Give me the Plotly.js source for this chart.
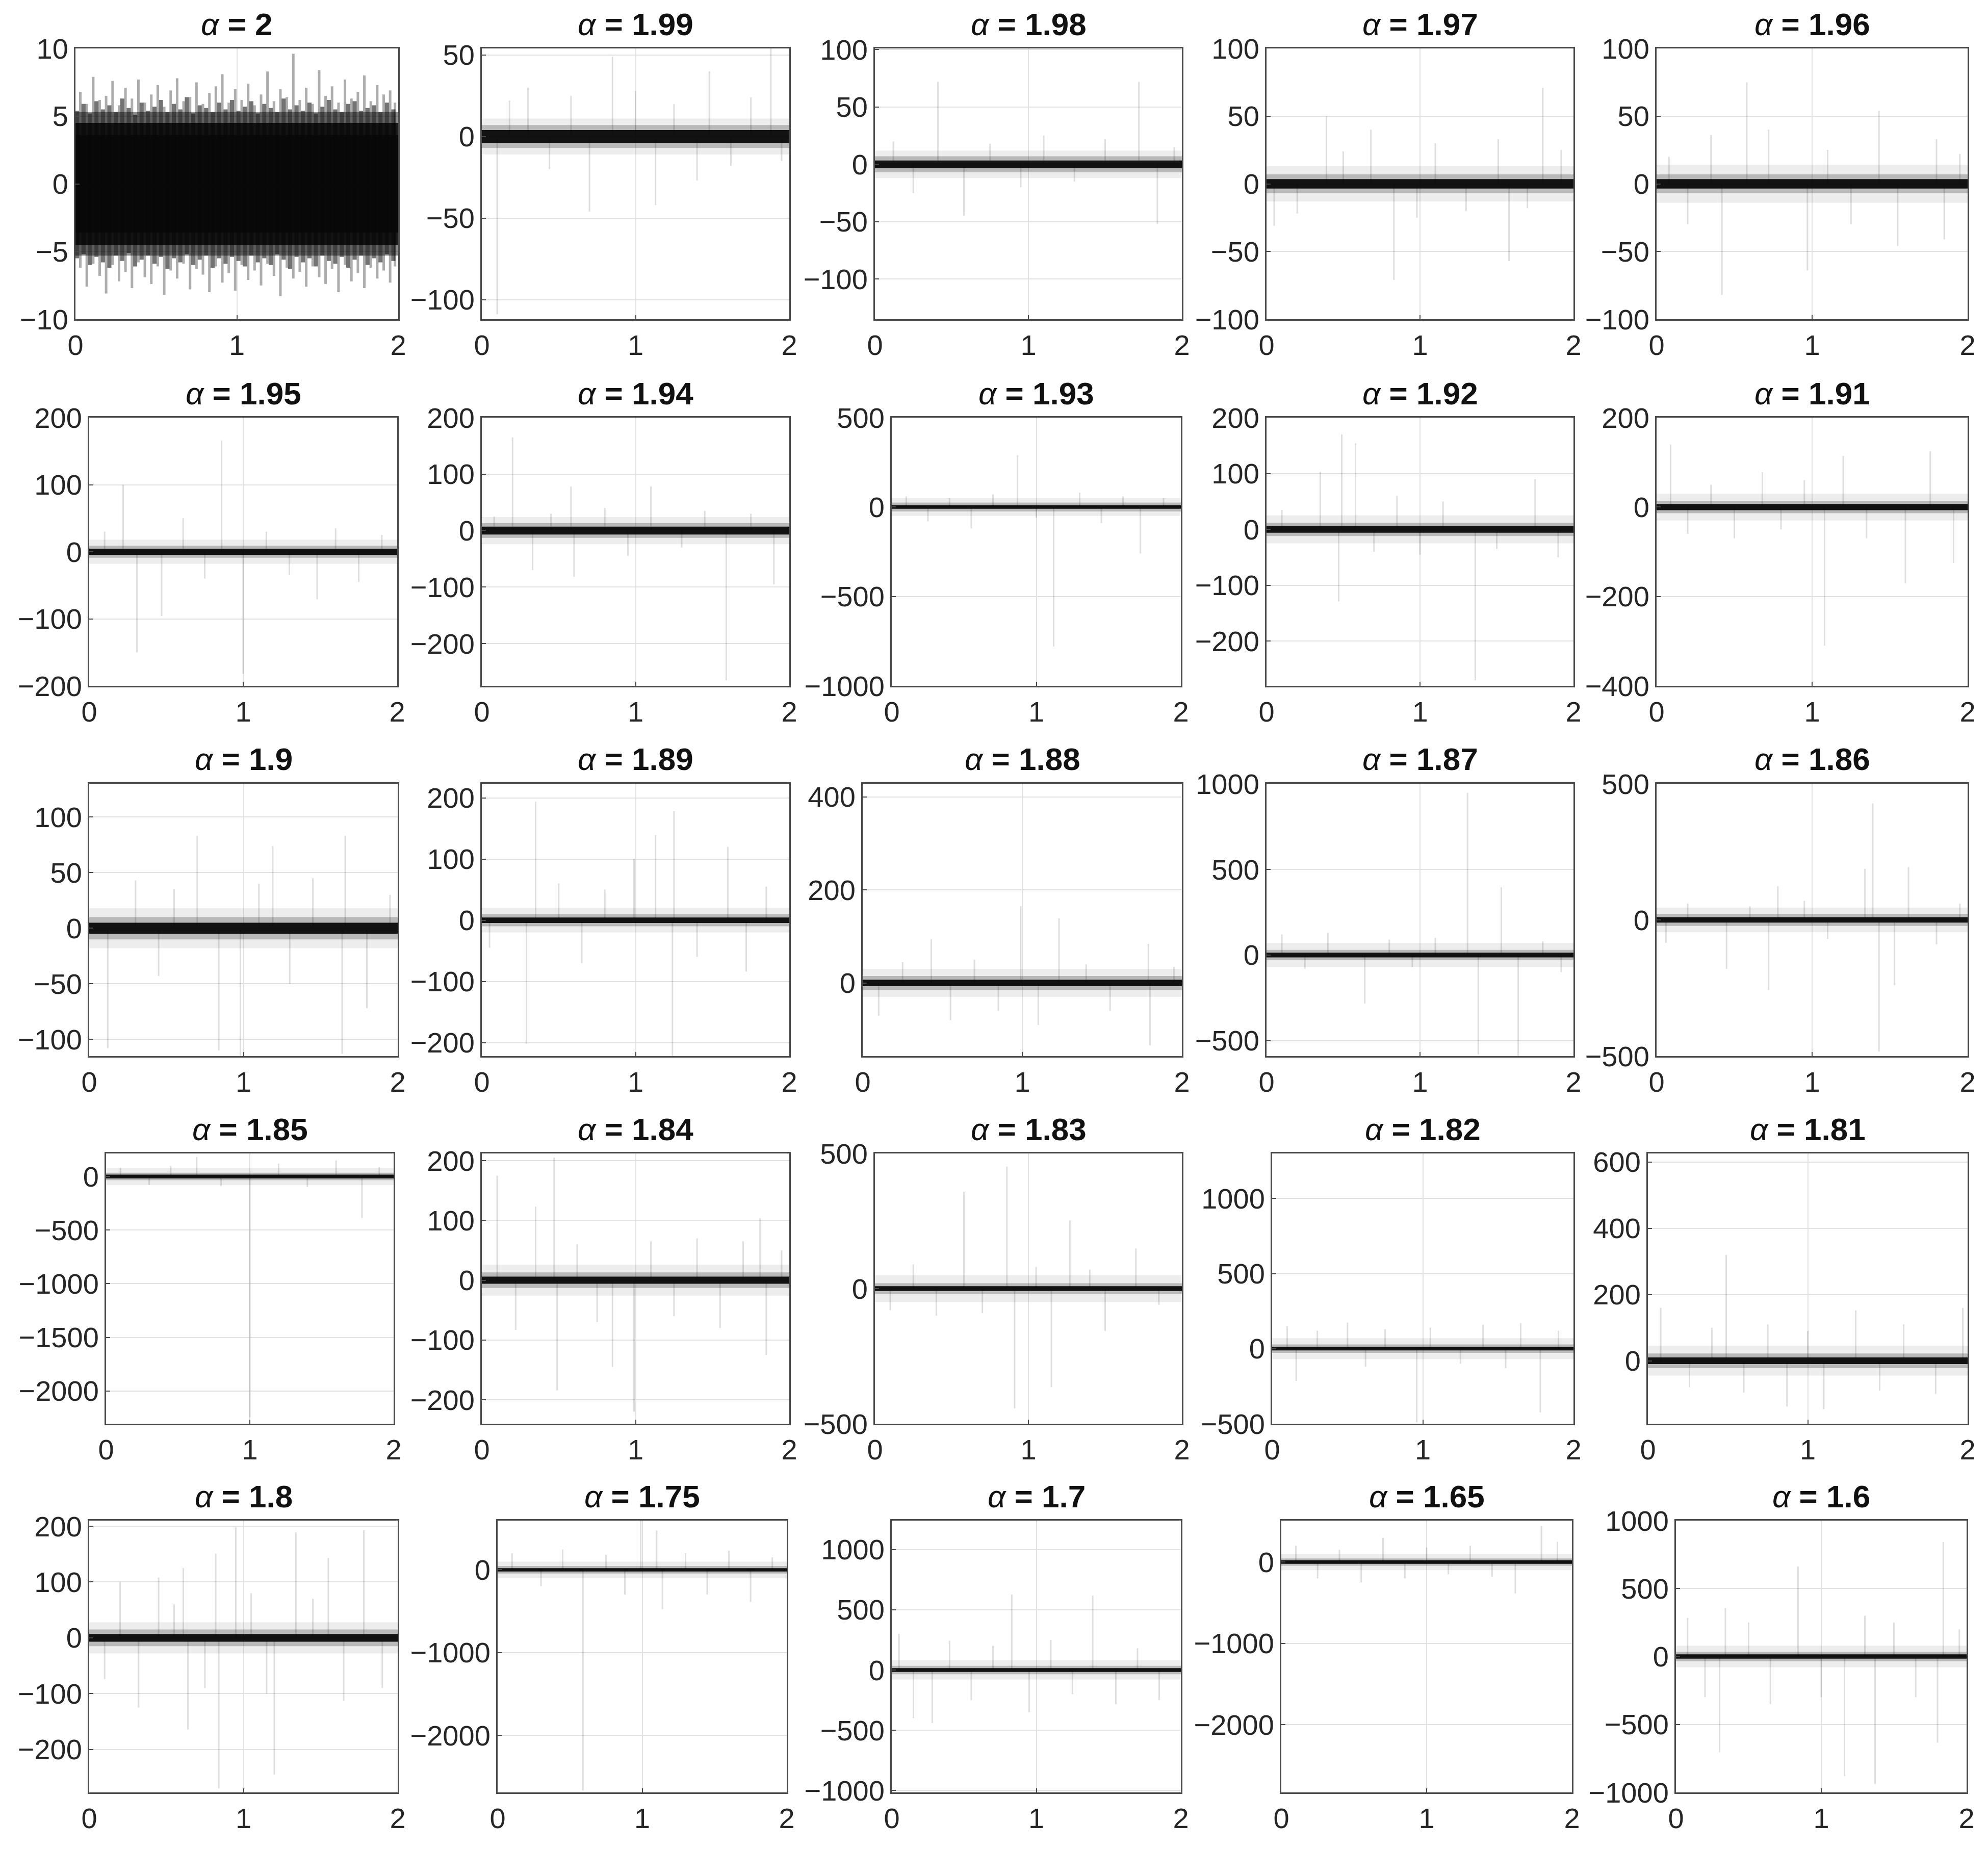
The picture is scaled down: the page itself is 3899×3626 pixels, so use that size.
<!DOCTYPE html>
<html>
<head>
<meta charset="utf-8">
<script src="https://cdn.plot.ly/plotly-3.0.1.min.js"></script>
<style>html,body{margin:0;padding:0;background:#fff;}</style>
</head>
<body>
<div id="chart" style="width:3899px;height:3626px;"></div>
<script>
// ---------------- DATA ----------------
const alphas = ['2','1.99','1.98','1.97','1.96',
                '1.95','1.94','1.93','1.92','1.91',
                '1.9','1.89','1.88','1.87','1.86',
                '1.85','1.84','1.83','1.82','1.81',
                '1.8','1.75','1.7','1.65','1.6'];
const tRange = [0, 2];
const xTicks = [0, 1, 2];
const yRanges = [
  [-10,10],[-112,54],[-135,101],[-100,100],[-100,100],
  [-200,200],[-275,200],[-1000,500],[-280,200],[-400,200],
  [-115,130],[-222,223],[-157,428],[-590,1000],[-500,500],
  [-2306,215],[-240,212],[-500,500],[-500,1300],[-190,626],
  [-277,210],[-2690,594],[-1016,1240],[-2832,510],[-1000,1000]];
const yTicks = [
  [-10,-5,0,5,10],[-100,-50,0,50],[-100,-50,0,50,100],[-100,-50,0,50,100],[-100,-50,0,50,100],
  [-200,-100,0,100,200],[-200,-100,0,100,200],[-1000,-500,0,500],[-200,-100,0,100,200],[-400,-200,0,200],
  [-100,-50,0,50,100],[-200,-100,0,100,200],[0,200,400],[-500,0,500,1000],[-500,0,500],
  [-2000,-1500,-1000,-500,0],[-200,-100,0,100,200],[-500,0,500],[-500,0,500,1000],[0,200,400,600],
  [-200,-100,0,100,200],[-2000,-1000,0],[-1000,-500,0,500,1000],[-2000,-1000,0],[-1000,-500,0,500,1000]];
// half-widths of the dense core, the darker inner fringe and the faint outer fringe
const coreHalf  = [3.6,4,3.3,3.5,3.5, 4.5,7,10,6,7, 5,4.5,7,14,10, 18,6,9,12,10, 7,20,16,22,16];
const innerHalf = [4.5,7,7,7,7, 9,13,25,12,14, 10,10,15,30,22, 35,13,20,28,22, 15,45,35,45,35];
const haloHalf  = [5.3,11,12,13,14, 18,24,50,25,30, 18,20,30,70,45, 80,26,50,70,45, 28,100,80,100,80];

// alpha = 2 : dense fringe spikes (up and down at the same times)
const spikeT0 = [0.03,0.07,0.11,0.15,0.19,0.23,0.27,0.31,0.35,0.39,0.43,0.47,0.51,0.55,0.59,0.63,0.67,0.71,0.75,0.79,0.83,0.87,0.91,0.95,0.99,1.03,1.07,1.11,1.15,1.19,1.23,1.27,1.31,1.35,1.39,1.43,1.47,1.51,1.55,1.59,1.63,1.67,1.71,1.75,1.79,1.83,1.87,1.91,1.95,1.98];
const spikeUp0 = [6.8,5.9,7.9,6.2,6.5,7.6,5.8,7.1,6.3,7.7,6.0,6.6,7.3,5.7,6.9,7.8,6.1,6.4,7.5,5.9,6.7,7.2,8.1,6.0,7.0,6.2,7.4,5.8,6.6,8.3,6.1,7.0,6.4,9.6,6.2,7.1,5.9,8.4,6.5,7.2,6.0,7.7,6.3,6.8,8.0,6.1,7.3,6.6,6.9,6.0];
const spikeDn0 = [-6.2,-7.6,-5.9,-6.8,-8.1,-6.0,-7.2,-6.5,-7.7,-5.8,-6.9,-7.4,-6.1,-8.2,-6.4,-7.0,-5.9,-7.8,-6.3,-6.7,-8.0,-6.1,-7.3,-6.6,-7.9,-6.0,-7.1,-6.4,-7.5,-5.9,-6.8,-8.3,-6.2,-7.0,-6.5,-7.6,-6.1,-6.9,-7.4,-6.3,-8.0,-6.0,-7.2,-6.6,-7.7,-6.2,-7.0,-6.4,-7.3,-6.1];
const spikeT0b = [0.01,0.05,0.09,0.13,0.17,0.21,0.25,0.29,0.33,0.37,0.41,0.45,0.49,0.53,0.57,0.61,0.65,0.69,0.73,0.77,0.81,0.85,0.89,0.93,0.97,1.01,1.05,1.09,1.13,1.17,1.21,1.25,1.29,1.33,1.37,1.41,1.45,1.49,1.53,1.57,1.61,1.65,1.69,1.73,1.77,1.81,1.85,1.89,1.93,1.97];
const spikeUp0b = [5.4,5.9,5.2,6.1,5.5,5.8,5.3,6.3,5.6,5.1,6.0,5.4,5.7,6.2,5.3,5.9,5.5,6.4,5.2,5.8,5.6,5.3,6.0,5.5,6.2,5.4,5.7,6.1,5.2,5.9,5.6,5.3,6.3,5.5,5.8,5.4,6.0,5.2,5.7,6.2,5.5,5.3,5.9,6.1,5.4,5.6,5.8,5.3,6.0,5.5];
const spikeDn0b = [-5.5,-5.2,-6.0,-5.4,-5.8,-6.2,-5.3,-5.7,-5.1,-6.1,-5.6,-5.3,-5.9,-5.4,-6.3,-5.5,-5.8,-5.2,-6.0,-5.6,-5.3,-6.2,-5.5,-5.9,-5.4,-5.7,-6.1,-5.3,-5.8,-5.5,-6.0,-5.2,-5.6,-6.3,-5.4,-5.8,-5.5,-6.1,-5.3,-5.7,-5.9,-5.4,-6.2,-5.6,-5.3,-6.0,-5.5,-5.8,-5.2,-5.7];

// isolated large excursions of every other series
const spikeT = [
  null,
  [0.10,0.18,0.30,0.44,0.58,0.70,0.85,1.0,1.13,1.25,1.40,1.48,1.62,1.75,1.88,1.95],
  [0.12,0.25,0.41,0.58,0.75,0.95,1.1,1.3,1.5,1.72,1.84,1.95],
  [0.05,0.2,0.39,0.5,0.68,0.83,0.98,1.1,1.3,1.51,1.58,1.7,1.80,1.92],
  [0.08,0.2,0.35,0.42,0.58,0.72,0.97,1.1,1.25,1.43,1.55,1.80,1.85,1.95],
  [0.1,0.22,0.31,0.47,0.61,0.75,0.86,1.0,1.15,1.3,1.48,1.6,1.75,1.9],
  [0.08,0.2,0.33,0.45,0.58,0.6,0.8,0.95,1.1,1.3,1.45,1.59,1.75,1.9],
  [0.1,0.25,0.4,0.55,0.7,0.87,1.0,1.12,1.3,1.45,1.6,1.72,1.88],
  [0.1,0.35,0.47,0.49,0.58,0.7,0.85,1.0,1.15,1.36,1.5,1.75,1.9],
  [0.09,0.2,0.35,0.5,0.68,0.8,0.95,1.08,1.20,1.35,1.6,1.76,1.91],
  [0.12,0.3,0.45,0.55,0.70,0.84,0.98,1.1,1.19,1.3,1.45,1.64,1.66,1.8,1.95],
  [0.05,0.29,0.35,0.5,0.65,0.8,0.99,1.13,1.24,1.25,1.4,1.6,1.72,1.85],
  [0.1,0.25,0.43,0.55,0.7,0.85,0.99,1.1,1.23,1.4,1.55,1.79,1.8,1.95],
  [0.1,0.25,0.4,0.64,0.8,0.95,1.1,1.31,1.38,1.53,1.64,1.8,1.92],
  [0.06,0.2,0.45,0.6,0.72,0.78,0.95,1.1,1.34,1.39,1.43,1.53,1.62,1.8,1.95],
  [0.1,0.3,0.45,0.63,0.8,1.0,1.2,1.4,1.6,1.78,1.9],
  [0.10,0.22,0.35,0.47,0.49,0.62,0.75,0.85,0.99,1.1,1.25,1.4,1.55,1.7,1.81,1.85,1.95],
  [0.1,0.25,0.4,0.58,0.7,0.86,0.91,1.05,1.15,1.27,1.4,1.5,1.7,1.85],
  [0.1,0.16,0.3,0.5,0.62,0.75,0.96,1.05,1.25,1.4,1.55,1.65,1.78,1.9],
  [0.08,0.26,0.4,0.49,0.6,0.75,0.87,1.0,1.1,1.3,1.45,1.6,1.8,1.97],
  [0.1,0.2,0.32,0.45,0.55,0.61,0.64,0.75,0.82,0.84,0.95,1.05,1.15,1.2,1.34,1.45,1.55,1.65,1.78,1.9],
  [0.1,0.3,0.45,0.59,0.75,0.88,0.99,1.10,1.14,1.3,1.45,1.6,1.75,1.9],
  [0.05,0.15,0.28,0.4,0.55,0.7,0.83,0.95,1.1,1.25,1.39,1.55,1.7,1.85],
  [0.1,0.25,0.4,0.55,0.7,0.85,1.0,1.15,1.3,1.45,1.61,1.79,1.9],
  [0.08,0.2,0.30,0.34,0.5,0.65,0.84,1.0,1.16,1.3,1.37,1.5,1.65,1.80,1.84,1.95]
];
const spikeV = [
  null,
  [-109,22,30,-20,25,-46,49,28,-42,20,-27,40,-18,24,55,-15],
  [20,-25,72,-45,18,-20,25,-15,22,72,-52,15],
  [-31,-22,50,24,40,-71,-25,30,-20,33,-57,-18,71,25],
  [20,-30,36,-82,75,40,-64,25,-30,54,-46,33,-41,22],
  [30,100,-150,-96,50,-40,166,-182,30,-35,-71,35,-45,25],
  [25,165,-70,30,78,-82,40,-45,78,-30,35,-265,30,-95],
  [60,-80,50,-120,70,290,-60,-780,80,-90,60,-260,50],
  [35,103,-129,170,154,-40,60,-45,50,-270,-35,90,-50],
  [140,-60,50,-70,78,-50,60,-310,114,-70,-171,125,-125],
  [-108,43,-43,35,83,-110,-115,40,74,-50,45,-113,83,-72,30],
  [-45,-202,194,60,-70,50,100,139,-222,178,-60,120,-84,55],
  [-70,45,94,-80,50,-60,165,-90,139,40,-60,84,-134,35],
  [120,-80,130,-283,90,-70,100,947,-580,396,-590,80,-100],
  [-84,60,-180,50,-258,124,70,-70,188,428,-483,-240,194,-90,60],
  [80,-80,100,182,-90,-2247,120,-100,150,-387,90],
  [175,-83,123,205,-184,60,-70,-145,-220,65,-60,70,-80,65,104,-125,50],
  [-80,90,-100,358,-90,452,-443,80,-365,252,70,-157,148,-60],
  [150,-215,120,173,-120,130,-490,140,-100,160,-130,170,-425,120],
  [160,-80,100,320,-96,110,-138,90,-146,152,-90,110,-100,160],
  [-74,100,-125,108,60,125,-164,-90,151,-270,198,80,-100,-245,189,70,143,-113,193,-90],
  [200,-200,245,-2666,180,-300,594,475,-475,200,-300,230,-389,150],
  [300,-400,-440,243,-250,200,627,-350,250,-200,617,-283,180,-250],
  [200,-200,150,-250,300,-200,180,-150,200,-180,-386,447,250],
  [284,-300,-705,356,250,-350,662,-300,-880,300,-939,250,-300,-633,842,200]
];

// ---------------- LAYOUT GEOMETRY (pixels) ----------------
const W = 3899, H = 3626;
const rowTB = [[95,626],[819,1345],[1537,2071],[2262,2792],[2982,3515]];
const colLR = [
  [[148,781],[945,1548],[1716,2318],[2484,3086],[3249,3859]],
  [[175,779],[945,1548],[1749,2316],[2484,3086],[3249,3859]],
  [[175,780],[945,1548],[1692,2318],[2484,3086],[3249,3859]],
  [[208,772],[945,1548],[1716,2318],[2495,3086],[3232,3859]],
  [[175,780],[976,1543],[1749,2316],[2513,3083],[3287,3857]]];

const FONT = '"Liberation Sans", Arial, sans-serif';
const traces = [];
const layout = {
  width: W, height: H,
  margin: {l:0, r:0, t:0, b:0},
  paper_bgcolor: '#ffffff', plot_bgcolor: '#ffffff',
  showlegend: false,
  font: {family: FONT, size: 56, color: '#262626'},
  annotations: []
};

function band(half, xr, yr, color) {
  return {
    type: 'scatter', mode: 'lines', xaxis: xr, yaxis: yr,
    x: [tRange[0], tRange[1], tRange[1], tRange[0], tRange[0]],
    y: [half, half, -half, -half, half],
    fill: 'toself', fillcolor: color, line: {width: 0}, hoverinfo: 'skip'
  };
}

for (let k = 0; k < 25; k++) {
  const r = Math.floor(k / 5), c = k % 5;
  const [L, R] = colLR[r][c];
  const [T, B] = rowTB[r];
  const xa = 'xaxis' + (k === 0 ? '' : (k + 1));
  const ya = 'yaxis' + (k === 0 ? '' : (k + 1));
  const xr = 'x' + (k === 0 ? '' : (k + 1));
  const yr = 'y' + (k === 0 ? '' : (k + 1));

  // spikes
  let sx = [], sy = [];
  if (k === 0) {
    for (let i = 0; i < spikeT0.length; i++) {
      sx.push(spikeT0[i], spikeT0[i], null);
      sy.push(spikeDn0[i], spikeUp0[i], null);
    }
    let bx = [], by = [];
    for (let i = 0; i < spikeT0b.length; i++) {
      bx.push(spikeT0b[i], spikeT0b[i], null);
      by.push(spikeDn0b[i], spikeUp0b[i], null);
    }
    traces.push({
      type: 'scatter', mode: 'lines', x: bx, y: by, xaxis: xr, yaxis: yr,
      line: {color: 'rgba(0,0,0,0.55)', width: 8}, hoverinfo: 'skip'
    });
  } else {
    for (let i = 0; i < spikeT[k].length; i++) {
      sx.push(spikeT[k][i], spikeT[k][i], null);
      sy.push(0, spikeV[k][i], null);
    }
  }
  traces.push({
    type: 'scatter', mode: 'lines', x: sx, y: sy, xaxis: xr, yaxis: yr,
    line: {color: k === 0 ? 'rgba(0,0,0,0.32)' : 'rgba(0,0,0,0.13)', width: k === 0 ? 5 : 3},
    hoverinfo: 'skip'
  });
  // fringe layers and core
  traces.push(band(haloHalf[k], xr, yr, k === 0 ? 'rgba(0,0,0,0.45)' : 'rgba(0,0,0,0.07)'));
  traces.push(band(innerHalf[k], xr, yr, k === 0 ? 'rgba(0,0,0,0.80)' : 'rgba(0,0,0,0.22)'));
  traces.push(band(coreHalf[k], xr, yr, 'rgba(8,8,8,0.95)'));

  layout[xa] = {
    domain: [L / W, R / W], anchor: yr, range: tRange,
    tickvals: xTicks, ticktext: xTicks.map(String),
    showgrid: true, gridcolor: '#e1e1e1', gridwidth: 2,
    zeroline: false, showline: true, mirror: true, linecolor: '#4a4a4a', linewidth: 3,
    ticks: 'inside', ticklen: 8, tickcolor: '#4a4a4a', tickwidth: 2,
    tickfont: {family: FONT, size: 56, color: '#262626'},
    fixedrange: true
  };
  layout[ya] = {
    domain: [1 - B / H, 1 - T / H], anchor: xr, range: yRanges[k],
    tickvals: yTicks[k],
    showgrid: true, gridcolor: '#e1e1e1', gridwidth: 2,
    zeroline: false, showline: true, mirror: true, linecolor: '#4a4a4a', linewidth: 3,
    ticks: 'inside', ticklen: 8, tickcolor: '#4a4a4a', tickwidth: 2,
    tickfont: {family: FONT, size: 56, color: '#262626'},
    fixedrange: true
  };
  layout.annotations.push({
    xref: 'paper', yref: 'paper',
    x: (L + R) / 2 / W, y: 1 - (T - 48) / H,
    xanchor: 'center', yanchor: 'middle', showarrow: false,
    text: '<i>α</i><b> = ' + alphas[k] + '</b>',
    font: {family: FONT, size: 62, color: '#111111'}
  });
}

Plotly.newPlot('chart', traces, layout, {staticPlot: true, displayModeBar: false});
</script>
</body>
</html>
